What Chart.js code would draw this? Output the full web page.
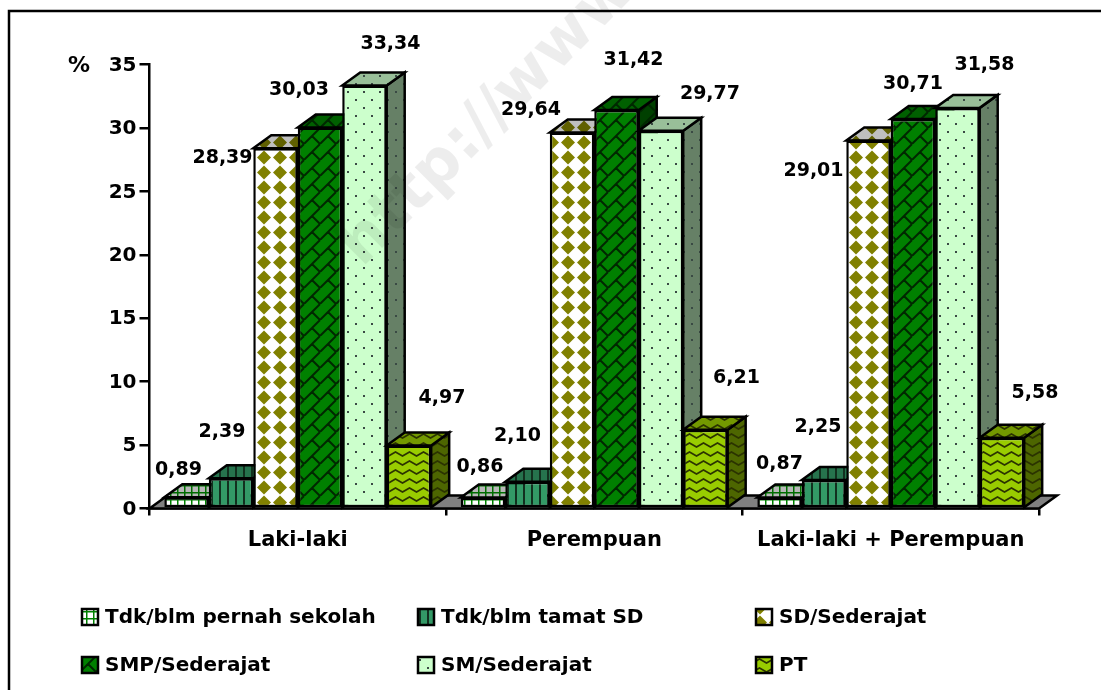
<!DOCTYPE html>
<html>
<head>
<meta charset="utf-8">
<style>html,body{margin:0;padding:0;background:#fff}canvas{display:block}</style>
<script src="https://cdn.jsdelivr.net/npm/chart.js@4"></script>
</head>
<body>
<canvas id="c" width="1101" height="690"></canvas>
<script>
const categories = ['Laki-laki', 'Perempuan', 'Laki-laki + Perempuan'];
const tidakPernah = [0.89, 0.86, 0.87];
const tidakTamat = [2.39, 2.10, 2.25];
const sd = [28.39, 29.64, 29.01];
const smp = [30.03, 31.42, 30.71];
const sm = [33.34, 29.77, 31.58];
const pt = [4.97, 6.21, 5.58];
const seriesNames = ['Tdk/blm pernah sekolah', 'Tdk/blm tamat SD', 'SD/Sederajat', 'SMP/Sederajat', 'SM/Sederajat', 'PT'];
const yTicks = [0, 5, 10, 15, 20, 25, 30, 35];

const FONT = 'bold 20px "DejaVu Sans"';
const LABEL_FONT = 'bold 19px "DejaVu Sans"';
const DEPTH_X = 18, DEPTH_Y = 13;
const LINE = 2.5;

function shade(hex, f) {
  const n = parseInt(hex.slice(1), 16);
  const r = (n >> 16) & 255, g = (n >> 8) & 255, b = n & 255;
  return `rgb(${Math.round(r*f)},${Math.round(g*f)},${Math.round(b*f)})`;
}
function tile(w, h, painter) {
  const cv = document.createElement('canvas');
  cv.width = w; cv.height = h;
  painter(cv.getContext('2d'), w, h);
  return document.getElementById('c').getContext('2d').createPattern(cv, 'repeat');
}
const painters = [
  f => tile(7, 7, (x, w, h) => {
    x.fillStyle = shade('#ffffff', f === 1 ? 1 : 0.72); x.fillRect(0, 0, w, h);
    x.fillStyle = shade('#008000', f === 1 ? 1 : 0.85); x.fillRect(2, 0, 1.5, h); x.fillRect(0, 2, w, 1.5);
  }),
  f => tile(8, 8, (x, w, h) => {
    x.fillStyle = shade('#339966', f); x.fillRect(0, 0, w, h);
    x.fillStyle = '#12301f'; x.fillRect(3, 0, 2, h);
  }),
  f => tile(16, 15, (x, w, h) => {
    x.fillStyle = shade('#ffffff', f); x.fillRect(0, 0, w, h);
    x.fillStyle = shade('#808000', f);
    x.beginPath(); x.moveTo(8, 0.5); x.lineTo(15, 7.5); x.lineTo(8, 14.5); x.lineTo(1, 7.5); x.closePath(); x.fill();
  }),
  f => tile(16, 16, (x, w, h) => {
    x.fillStyle = shade('#008000', f); x.fillRect(0, 0, w, h);
    x.strokeStyle = '#002800'; x.lineWidth = 2;
    x.beginPath();
    for (let i = -16; i <= 32; i += 16) { x.moveTo(i, 16); x.lineTo(i + 16, 0); }
    for (let ox = -16; ox <= 16; ox += 16) for (let oy = -16; oy <= 16; oy += 16) {
      x.moveTo(8 + ox, 8 + oy); x.lineTo(16 + ox, 16 + oy);
    }
    x.stroke();
  }),
  f => tile(16, 16, (x, w, h) => {
    x.fillStyle = shade('#ccffcc', f); x.fillRect(0, 0, w, h);
    x.fillStyle = '#3a4a44'; x.fillRect(3, 3, 2, 2); x.fillRect(11, 11, 2, 2);
  }),
  f => tile(14, 9, (x, w, h) => {
    x.fillStyle = shade('#99cc00', f); x.fillRect(0, 0, w, h);
    x.strokeStyle = '#2b3300'; x.lineWidth = 1.6;
    x.beginPath(); x.moveTo(-3.5, 6); x.lineTo(3.5, 2); x.lineTo(10.5, 6); x.lineTo(17.5, 2); x.stroke();
  })
];

const values = [tidakPernah, tidakTamat, sd, smp, sm, pt];
const datasets = values.map((data, i) => ({
  label: seriesNames[i],
  data,
  backgroundColor: painters[i](1),
  borderColor: '#000',
  borderWidth: LINE,
  borderSkipped: false,
  topFill: painters[i](0.75),
  sideFill: painters[i](0.5)
}));

// label offsets from each bar's centre/top: [dx, dy] by series, then category
const labelOffsets = [
  [[-8,-27],[-3,-31],[0,-33]],
  [[-9,-46],[-10,-46],[-6,-53]],
  [[-53,10],[-41,-22],[-55,31]],
  [[-21,-37],[17,-50],[0,-35]],
  [[26,-41],[49,-37],[27,-43]],
  [[33,-47],[31,-52],[33,-45]]
];
const legendCols = [82, 418, 756];
const legendRows = [617, 665];

function poly(ctx, pts, fill) {
  ctx.beginPath();
  pts.forEach((p, i) => i ? ctx.lineTo(p[0], p[1]) : ctx.moveTo(p[0], p[1]));
  ctx.closePath();
  ctx.fillStyle = fill; ctx.fill();
  ctx.strokeStyle = '#000'; ctx.lineWidth = LINE; ctx.lineJoin = 'miter'; ctx.stroke();
}

const bars3d = {
  id: 'bars3d',
  beforeDatasetsDraw(chart) {
    const a = chart.chartArea, ctx = chart.ctx;
    poly(ctx, [[a.left, a.bottom], [a.left + DEPTH_X, a.bottom - DEPTH_Y], [a.right + DEPTH_X, a.bottom - DEPTH_Y], [a.right, a.bottom]], '#808080');
    // paint left to right so each bar covers the depth of its left neighbour
    chart.data.datasets.forEach((ds, i) => {
      const meta = chart.getDatasetMeta(i);
      meta.data.forEach(el => {
        const l = el.x - el.width / 2, r = el.x + el.width / 2, t = el.y, b = el.base;
        poly(ctx, [[r, t], [r + DEPTH_X, t - DEPTH_Y], [r + DEPTH_X, b - DEPTH_Y], [r, b]], ds.sideFill);
        poly(ctx, [[l, t], [l + DEPTH_X, t - DEPTH_Y], [r + DEPTH_X, t - DEPTH_Y], [r, t]], ds.topFill);
      });
      meta.controller.draw();
    });
    ctx.save();
    ctx.font = LABEL_FONT; ctx.fillStyle = '#000'; ctx.textAlign = 'center'; ctx.textBaseline = 'middle';
    chart.data.datasets.forEach((ds, i) => {
      chart.getDatasetMeta(i).data.forEach((el, j) => {
        const off = labelOffsets[i][j];
        ctx.fillText(ds.data[j].toFixed(2).replace('.', ','), el.x + off[0], el.y + off[1]);
      });
    });
    ctx.restore();
    return false;
  },
  afterDraw(chart) {
    const ctx = chart.ctx;
    ctx.save();
    // frame: left and top edges only
    ctx.strokeStyle = '#000'; ctx.lineWidth = LINE;
    ctx.beginPath(); ctx.moveTo(9, 690); ctx.lineTo(9, 11); ctx.lineTo(1101, 11); ctx.stroke();
    // percent sign
    ctx.font = 'bold 22px "DejaVu Sans"'; ctx.fillStyle = '#000';
    ctx.textAlign = 'center'; ctx.textBaseline = 'middle';
    ctx.fillText('%', 79, 66);
    // legend
    ctx.font = FONT; ctx.textAlign = 'left';
    chart.data.datasets.forEach((ds, i) => {
      const x = legendCols[i % 3], y = legendRows[Math.floor(i / 3)];
      ctx.fillStyle = ds.backgroundColor;
      ctx.strokeStyle = '#000'; ctx.lineWidth = LINE;
      ctx.fillRect(x, y - 8, 16, 16); ctx.strokeRect(x, y - 8, 16, 16);
      ctx.fillStyle = '#000';
      ctx.fillText(ds.label, x + 23, y + 1);
    });
    // watermark
    ctx.translate(362, 268); ctx.rotate(-Math.PI / 4);
    ctx.font = 'bold 62px "DejaVu Sans"'; ctx.fillStyle = 'rgba(0,0,0,0.07)';
    ctx.textAlign = 'left'; ctx.textBaseline = 'alphabetic';
    ctx.fillText('http://www', 0, 0);
    ctx.restore();
  }
};

const tickFont = { family: 'DejaVu Sans', weight: 'bold', size: 20 };
const catFont = { family: 'DejaVu Sans', weight: 'bold', size: 21 };
new Chart(document.getElementById('c'), {
  type: 'bar',
  data: { labels: categories, datasets },
  plugins: [bars3d],
  options: {
    responsive: false,
    animation: false,
    layout: { padding: { top: 64.5, right: 62, left: 0, bottom: 0 } },
    datasets: { bar: { categoryPercentage: 0.9, barPercentage: 1 } },
    plugins: { legend: { display: false }, tooltip: { enabled: false } },
    scales: {
      y: {
        min: 0, max: 35,
        afterBuildTicks: s => { s.ticks = yTicks.map(v => ({ value: v })); },
        afterFit: s => { s.width = 149.5; },
        ticks: { color: '#000', font: tickFont, padding: 3, labelOffset: 1 },
        grid: { drawOnChartArea: false, color: '#000', lineWidth: LINE, tickLength: 10 },
        border: { color: '#000', width: LINE }
      },
      x: {
        afterFit: s => { s.height = 181.5; },
        ticks: { color: '#000', font: catFont, padding: 12, maxRotation: 0 },
        grid: { drawOnChartArea: false, color: '#000', lineWidth: LINE, tickLength: 7 },
        border: { color: '#000', width: LINE }
      }
    }
  }
});
</script>
</body>
</html>
